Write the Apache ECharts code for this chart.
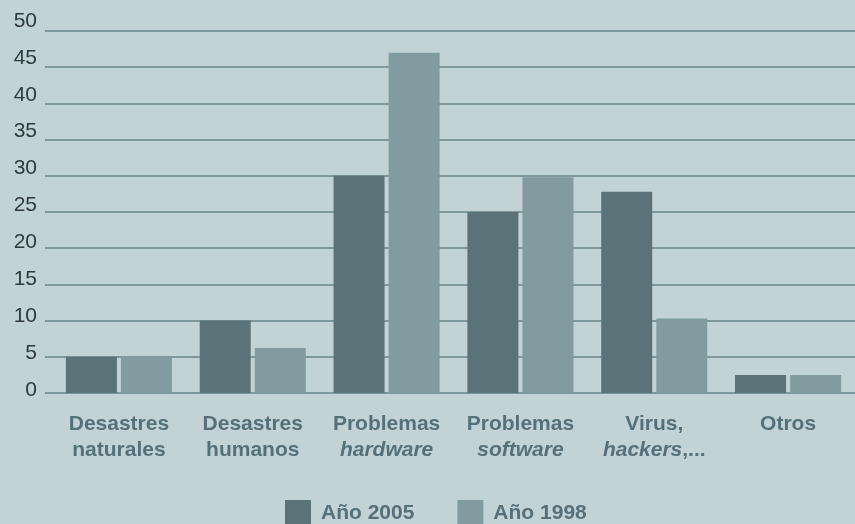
<!DOCTYPE html>
<html>
<head>
<meta charset="utf-8">
<script src="https://cdn.jsdelivr.net/npm/echarts@6/dist/echarts.min.js"></script>
<style>html,body{margin:0;padding:0;background:#c1d3d7;}#c{width:855px;height:524px;}</style>
</head>
<body>
<div id="c"></div>
<script>
var categories = ['Desastres naturales', 'Desastres humanos', 'Problemas hardware', 'Problemas software', 'Virus, hackers,...', 'Otros'];
var labelLine1 = ['Desastres', 'Desastres', 'Problemas', 'Problemas', 'Virus,', 'Otros'];
var labelLine2 = ['naturales', 'humanos', '{i|hardware}', '{i|software}', '{i|hackers}{b|,...}', ''];
var series2005 = [5, 10, 30, 25, 27.8, 2.5];
var series1998 = [5, 6.2, 47, 29.8, 10.3, 2.5];
var seriesNames = ['Año 2005', 'Año 1998'];
var yMin = 0, yMax = 50, yInterval = 5;

var textColor = '#56707a';
var font = 'Liberation Sans, Arial, sans-serif';
var chart = echarts.init(document.getElementById('c'), null, {renderer: 'canvas'});
var option = {
  backgroundColor: '#c1d3d7',
  animation: false,
  legend: {
    data: seriesNames,
    left: 285,
    top: 500,
    padding: 0,
    itemWidth: 26,
    itemHeight: 26,
    itemGap: 43,
    icon: 'rect',
    textStyle: {color: textColor, fontSize: 21, fontWeight: 'bold', fontFamily: font, padding: [3, 0, 0, 5]}
  },
  grid: [
    {left: 45, top: 21, height: 369, right: 0},
    {left: 45, top: 31, height: 362, right: 0},
    {left: 52, top: 31, height: 362, width: 804}
  ],
  xAxis: [
    {gridIndex: 0, type: 'value', show: false},
    {gridIndex: 1, type: 'value', show: false},
    {gridIndex: 2, type: 'category', data: categories,
      axisLine: {show: false}, axisTick: {show: false},
      axisLabel: {
        interval: 0, margin: 18, fontWeight: 'bold', fontFamily: font, fontSize: 21, color: textColor,
        formatter: function (v, i) { return '{b|' + labelLine1[i] + '}\n' + (labelLine2[i].charAt(0) === '{' ? labelLine2[i] : '{b|' + labelLine2[i] + '}'); },
        rich: {
          b: {color: textColor, fontSize: 21, fontWeight: 'bold', fontFamily: font, lineHeight: 26},
          i: {color: textColor, fontSize: 21, fontWeight: 'bold', fontStyle: 'italic', fontFamily: font, lineHeight: 26}
        }
      }
    }
  ],
  yAxis: [
    {gridIndex: 0, type: 'value', min: yMin, max: yMax, interval: yInterval,
      axisLine: {show: false}, axisTick: {show: false}, splitLine: {show: false},
      axisLabel: {color: '#2f3a3d', fontSize: 21, fontFamily: font, margin: 8}
    },
    {gridIndex: 1, type: 'value', min: yMin, max: yMax, interval: yInterval,
      axisLine: {show: false}, axisTick: {show: false}, axisLabel: {show: false},
      splitLine: {show: true, lineStyle: {color: '#66838a', width: 1.5}}
    },
    {gridIndex: 2, type: 'value', min: yMin, max: yMax, interval: yInterval, show: false}
  ],
  series: [
    {type: 'line', xAxisIndex: 0, yAxisIndex: 0, data: [], silent: true},
    {type: 'line', xAxisIndex: 1, yAxisIndex: 1, data: [], silent: true},
    {name: seriesNames[0], type: 'bar', xAxisIndex: 2, yAxisIndex: 2, data: series2005,
      barWidth: 51, barGap: '8%', itemStyle: {color: '#5a7278'}},
    {name: seriesNames[1], type: 'bar', xAxisIndex: 2, yAxisIndex: 2, data: series1998,
      barWidth: 51, barGap: '8%', itemStyle: {color: '#829ba0'}}
  ]
};
chart.setOption(option);
</script>
</body>
</html>
